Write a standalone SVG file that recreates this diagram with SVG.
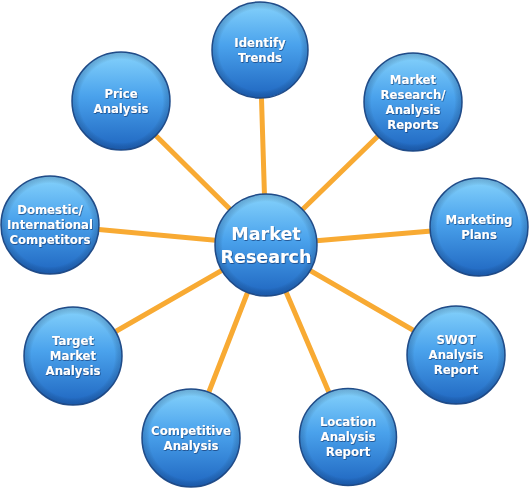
<svg xmlns="http://www.w3.org/2000/svg" width="531" height="496" viewBox="0 0 531 496">
<defs>
<linearGradient id="ball" x1="0" y1="0" x2="0" y2="1">
<stop offset="0" stop-color="#86D3FC"/>
<stop offset="0.45" stop-color="#4AA2EC"/>
<stop offset="1" stop-color="#1F66C0"/>
</linearGradient>
<radialGradient id="rim" cx="0.5" cy="0.5" r="0.5">
<stop offset="0.85" stop-color="#000" stop-opacity="0"/>
<stop offset="1" stop-color="#0B2F66" stop-opacity="0.25"/>
</radialGradient>
<filter id="ts" x="-10%" y="-10%" width="120%" height="130%">
<feDropShadow dx="0.6" dy="0.8" stdDeviation="0.6" flood-color="#0D3266" flood-opacity="0.8"/>
</filter>
</defs>
<style>
.link{stroke:#F8AA33;stroke-width:5;stroke-linecap:round;fill:none}
.b{fill:url(#ball);stroke:#234F8C;stroke-width:1.5}
.r{fill:url(#rim)}
.t{font-family:"DejaVu Sans","Verdana",sans-serif;font-weight:bold;font-size:11.7px;fill:#fff;text-anchor:middle;filter:url(#ts)}
.tc{font-size:17.5px}
</style>
<rect width="531" height="496" fill="#fff"/>
<g id="connectors">
<line class="link" x1="266" y1="245" x2="260" y2="50"/>
<line class="link" x1="266" y1="245" x2="413" y2="102"/>
<line class="link" x1="266" y1="245" x2="479" y2="227"/>
<line class="link" x1="266" y1="245" x2="456" y2="355"/>
<line class="link" x1="266" y1="245" x2="348" y2="437"/>
<line class="link" x1="266" y1="245" x2="191" y2="438"/>
<line class="link" x1="266" y1="245" x2="73" y2="356"/>
<line class="link" x1="266" y1="245" x2="50" y2="225"/>
<line class="link" x1="266" y1="245" x2="121" y2="101"/>
</g>
<g id="n-trends">
<circle class="b" cx="260" cy="50" r="48"/><circle class="r" cx="260" cy="50" r="48"/>
<text class="t" x="260" y="47">Identify</text><text class="t" x="260" y="62">Trends</text>
</g>
<g id="n-reports">
<circle class="b" cx="413" cy="102" r="49"/><circle class="r" cx="413" cy="102" r="49"/>
<text class="t" x="413" y="84">Market</text><text class="t" x="413" y="99">Research/</text><text class="t" x="413" y="114">Analysis</text><text class="t" x="413" y="129">Reports</text>
</g>
<g id="n-plans">
<circle class="b" cx="479" cy="227" r="49"/><circle class="r" cx="479" cy="227" r="49"/>
<text class="t" x="479" y="224">Marketing</text><text class="t" x="479" y="239">Plans</text>
</g>
<g id="n-swot">
<circle class="b" cx="456" cy="355" r="49"/><circle class="r" cx="456" cy="355" r="49"/>
<text class="t" x="456" y="344">SWOT</text><text class="t" x="456" y="359">Analysis</text><text class="t" x="456" y="374">Report</text>
</g>
<g id="n-location">
<circle class="b" cx="348" cy="437" r="48.5"/><circle class="r" cx="348" cy="437" r="48.5"/>
<text class="t" x="348" y="426">Location</text><text class="t" x="348" y="441">Analysis</text><text class="t" x="348" y="456">Report</text>
</g>
<g id="n-competitive">
<circle class="b" cx="191" cy="438" r="49"/><circle class="r" cx="191" cy="438" r="49"/>
<text class="t" x="191" y="435">Competitive</text><text class="t" x="191" y="450">Analysis</text>
</g>
<g id="n-target">
<circle class="b" cx="73" cy="356" r="49"/><circle class="r" cx="73" cy="356" r="49"/>
<text class="t" x="73" y="345">Target</text><text class="t" x="73" y="360">Market</text><text class="t" x="73" y="375">Analysis</text>
</g>
<g id="n-domestic">
<circle class="b" cx="50" cy="225" r="49"/><circle class="r" cx="50" cy="225" r="49"/>
<text class="t" x="50" y="214">Domestic/</text><text class="t" x="50" y="229">International</text><text class="t" x="50" y="244">Competitors</text>
</g>
<g id="n-price">
<circle class="b" cx="121" cy="101" r="49"/><circle class="r" cx="121" cy="101" r="49"/>
<text class="t" x="121" y="98">Price</text><text class="t" x="121" y="113">Analysis</text>
</g>
<g id="n-center">
<circle class="b" cx="266" cy="245" r="51"/><circle class="r" cx="266" cy="245" r="51"/>
<text class="t tc" x="266" y="240">Market</text><text class="t tc" x="266" y="263">Research</text>
</g>
</svg>
